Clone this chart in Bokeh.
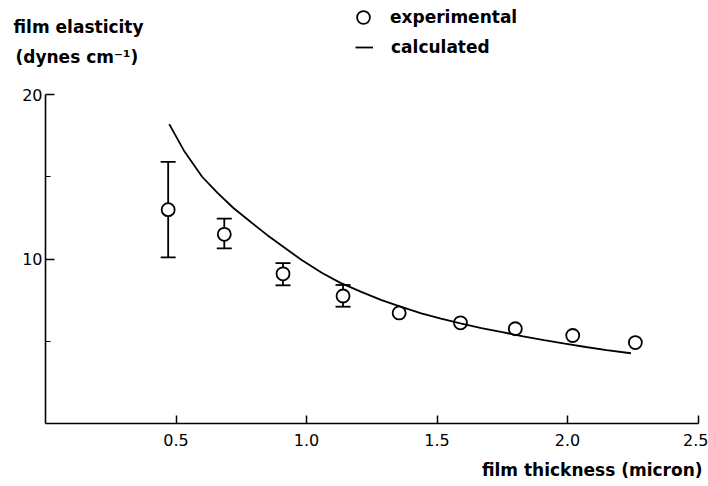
from bokeh.plotting import figure
from bokeh.models import (ColumnDataSource, Whisker, TeeHead, Legend, LegendItem,
                          Label, FixedTicker, Range1d, PrintfTickFormatter)
from bokeh.embed import file_html
from bokeh.resources import INLINE

# experimental points (film thickness in micron, elasticity in dynes/cm)
exp_x = [0.47, 0.685, 0.91, 1.14, 1.355, 1.59, 1.80, 2.02, 2.26]
exp_y = [13.0, 11.5, 9.1, 7.75, 6.72, 6.12, 5.76, 5.35, 4.92]

# error bars (first four points)
err_x = [0.47, 0.685, 0.91, 1.14]
err_upper = [15.9, 12.45, 9.75, 8.42]
err_lower = [10.1, 10.65, 8.4, 7.1]

# calculated curve
calc_x = [0.474, 0.53, 0.60, 0.66, 0.72, 0.79, 0.85, 0.915, 0.98, 1.06, 1.13, 1.21,
          1.285, 1.36, 1.44, 1.515, 1.59, 1.67, 1.75, 1.83, 1.91, 1.99, 2.07, 2.15, 2.243]
calc_y = [18.2, 16.6, 15.0, 14.0, 13.1, 12.2, 11.45, 10.7, 9.95, 9.15, 8.55, 8.0,
          7.52, 7.1, 6.7, 6.38, 6.08, 5.8, 5.55, 5.3, 5.07, 4.85, 4.65, 4.46, 4.27]

x_ticks = [0.5, 1.0, 1.5, 2.0, 2.5]
y_ticks = [10, 20]
y_minor = [5, 15]

# layout (pixels)
W, H = 708, 486
X0_PX, PX_PER_X = 45, 261.0
Y0_PX, PX_PER_Y = 423, 16.45

FONT = "DejaVu Sans"

p = figure(width=W, height=H, output_backend="svg", toolbar_location=None,
           x_range=Range1d(-X0_PX / PX_PER_X, (W - X0_PX) / PX_PER_X),
           y_range=Range1d(-(H - Y0_PX) / PX_PER_Y, Y0_PX / PX_PER_Y),
           min_border=0, min_border_left=0, min_border_right=0,
           min_border_top=0, min_border_bottom=0)
p.title.visible = False
p.outline_line_color = None
p.xgrid.visible = False
p.ygrid.visible = False
p.background_fill_color = "white"
p.border_fill_color = "white"

for ax in (p.xaxis[0], p.yaxis[0]):
    ax.fixed_location = 0
    ax.axis_line_width = 1.6
    ax.axis_line_color = "black"
    ax.major_tick_line_width = 1.5
    ax.major_tick_line_color = "black"
    ax.major_tick_out = 0
    ax.minor_tick_out = 0
    ax.major_label_text_font = FONT
    ax.major_label_text_font_size = "16px"
    ax.major_label_text_color = "black"

p.xaxis[0].bounds = (0, 2.5)
p.xaxis[0].ticker = FixedTicker(ticks=x_ticks, minor_ticks=[])
p.xaxis[0].formatter = PrintfTickFormatter(format="%.1f")
p.xaxis[0].major_tick_in = 8
p.xaxis[0].major_label_standoff = 10

p.yaxis[0].bounds = (0, 20)
p.yaxis[0].ticker = FixedTicker(ticks=y_ticks, minor_ticks=y_minor)
p.yaxis[0].formatter = PrintfTickFormatter(format="%d")
p.yaxis[0].major_tick_in = 9
p.yaxis[0].minor_tick_in = 5
p.yaxis[0].minor_tick_line_width = 1.2
p.yaxis[0].minor_tick_line_color = "black"
p.yaxis[0].major_label_standoff = 3

src_err = ColumnDataSource(dict(x=err_x, upper=err_upper, lower=err_lower))
wh = Whisker(base="x", upper="upper", lower="lower", source=src_err,
             line_width=1.8, line_color="black",
             upper_head=TeeHead(size=15, line_width=1.8, line_color="black"),
             lower_head=TeeHead(size=15, line_width=1.8, line_color="black"))
p.add_layout(wh)

pts = p.scatter(exp_x, exp_y, marker="circle", size=13, fill_color="white",
                line_color="black", line_width=1.8)
crv = p.line(calc_x, calc_y, line_color="black", line_width=1.8)

leg_kw = dict(orientation="vertical", padding=0, margin=0, label_height=18,
              label_text_font=FONT, label_text_font_size="17px",
              label_text_font_style="bold", label_text_color="black",
              label_text_baseline="middle",
              border_line_color=None, background_fill_alpha=0)
leg_pts = Legend(items=[LegendItem(label="experimental", renderers=[pts])],
                 location=(347, H - 33), glyph_height=32, glyph_width=32,
                 label_standoff=11, **leg_kw)
leg_crv = Legend(items=[LegendItem(label="calculated", renderers=[crv])],
                 location=(355, H - 57), glyph_height=18, glyph_width=18,
                 label_standoff=18, **leg_kw)
p.add_layout(leg_pts, "center")
p.add_layout(leg_crv, "center")

lab_kw = dict(x_units="screen", y_units="screen", text_font=FONT,
              text_font_size="17px", text_font_style="bold", text_color="black",
              text_baseline="alphabetic")
p.add_layout(Label(x=13, y=H - 26, text="film elasticity", **lab_kw))
p.add_layout(Label(x=15, y=H - 56, text="(dynes cm\u207b\u00b9)", **lab_kw))
p.add_layout(Label(x=702, y=H - 469, text="film thickness (micron)", text_align="right", **lab_kw))

open("out.html", "w").write(file_html(p, INLINE))
